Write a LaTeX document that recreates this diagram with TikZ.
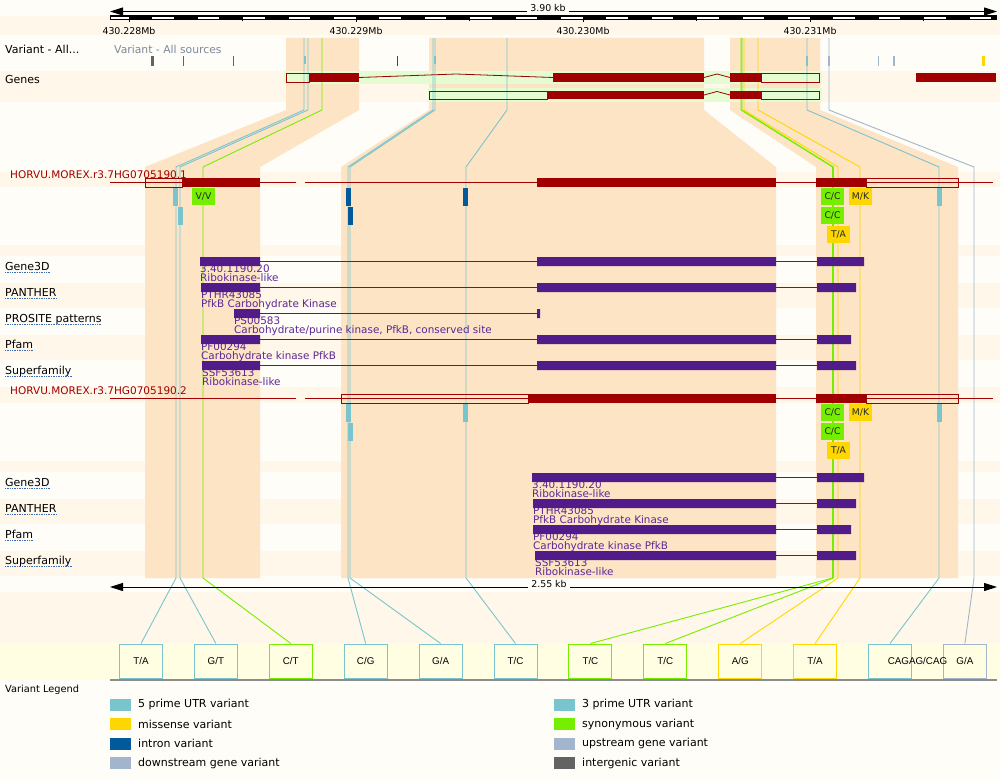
\documentclass[tikz,border=0pt]{standalone}
\usepackage{fontspec}
\setmainfont{DejaVu Sans}
\newfontfamily\boxfont{Liberation Sans}
\usetikzlibrary{arrows.meta}
\definecolor{bg}{HTML}{FFFDF7}
\definecolor{stripe}{HTML}{FFF7EA}
\definecolor{peach}{HTML}{FDE4C5}
\definecolor{genegreen}{HTML}{E5FCD3}
\definecolor{gred}{HTML}{A00000}
\definecolor{dom}{HTML}{521B8A}
\definecolor{domtxt}{HTML}{5A2898}
\definecolor{utr}{HTML}{7AC5CD}
\definecolor{mis}{HTML}{FFD700}
\definecolor{syn}{HTML}{76EE00}
\definecolor{intr}{HTML}{02599C}
\definecolor{ups}{HTML}{A2B5CD}
\definecolor{igc}{HTML}{636363}
\definecolor{lyel}{HTML}{FFFEE3}
\definecolor{srcgray}{HTML}{7B8A9C}
\definecolor{ulblue}{HTML}{3A6BB0}
\newcommand\ulab[3]{\node[tlab] (#1) at (5,#2) {#3};
  \draw[uline] ([yshift=-2.2pt]#1.base west) -- ([yshift=-2.2pt]#1.base east);}
\begin{document}
\begin{tikzpicture}[x=1pt,y=-1pt,
  tlab/.style={anchor=base west,inner sep=0,font=\fontsize{11}{13}\selectfont},
  trlab/.style={anchor=base west,inner sep=0,text=gred,font=\fontsize{10.5}{12}\selectfont},
  dtxt/.style={anchor=base west,inner sep=0,text=domtxt,font=\fontsize{10.4}{12}\selectfont},
  ticklab/.style={inner sep=0,font=\fontsize{9.4}{11}\selectfont},
  uline/.style={ulblue,densely dotted,line width=0.7pt},
  vb/.style={inner sep=0,minimum width=23pt,minimum height=17pt,font=\fontsize{9.2}{10}\selectfont,text=black!85},
  bb/.style={draw,fill=lyel,line width=1pt,minimum width=43pt,minimum height=34pt,inner sep=0,font=\boxfont\fontsize{9.8}{11}\selectfont},
  con/.style={line width=0.9pt},
  exon/.style={fill=gred},
  utrbox/.style={draw=gred,line width=0.8pt},
  dline/.style={dom,line width=0.8pt},
  intronline/.style={gred,line width=0.8pt},
  sw/.style={inner sep=0,minimum width=21pt,minimum height=12pt},
  leg/.style={anchor=west,inner sep=0,font=\fontsize{11}{12}\selectfont},
  scalearr/.style={line width=1pt,{Triangle[length=13pt,width=8pt]}-{Triangle[length=13pt,width=8pt]}},
]
\useasboundingbox (0,0) rectangle (1000,781);
\fill[bg] (0,0) rectangle (1000,781);
% stripes
\foreach \a/\b in {16/35,71/102,172/187,245/256,283/308,335/360,387/403,461/472,499/524,551/576,592/643}
  \fill[stripe] (0,\a) rectangle (1000,\b);
\fill[lyel] (0,643) rectangle (1000,680);
% peach exon columns
\fill[peach] (286,38) -- (359,38) -- (359,110) -- (260,167) -- (260,578) -- (145,578) -- (145,167) -- (286,110) -- cycle;
\fill[peach] (429,38) -- (704,38) -- (704,110) -- (776,167) -- (776,578) -- (341,578) -- (341,167) -- (429,110) -- cycle;
\fill[peach] (730,38) -- (820,38) -- (820,110) -- (958,167) -- (958,578) -- (816,578) -- (816,167) -- (730,110) -- cycle;
% gene bands
\fill[genegreen] (284,71) rectangle (822,84);
\fill[genegreen] (428,88) rectangle (822,102);

% bottom variant boxes
\node[bb,draw=utr] (b1) at (141,661) {T/A};
\node[bb,draw=utr] (b2) at (215.9,661) {G/T};
\node[bb,draw=syn] (b3) at (290.8,661) {C/T};
\node[bb,draw=utr] (b4) at (365.7,661) {C/G};
\node[bb,draw=utr] (b5) at (440.6,661) {G/A};
\node[bb,draw=utr] (b6) at (515.5,661) {T/C};
\node[bb,draw=syn] (b7) at (590.4,661) {T/C};
\node[bb,draw=syn] (b8) at (665.3,661) {T/C};
\node[bb,draw=mis] (b9) at (740.2,661) {A/G};
\node[bb,draw=mis] (b10) at (815.1,661) {T/A};
\node[bb,draw=utr] (b11) at (890,661) {};
\node[bb,draw=ups] (b12) at (964.9,661) {G/A};
\node[inner sep=0,font=\boxfont\fontsize{9.8}{11}\selectfont] (b11t) at (917.5,661) {CAGAG/CAG};
\draw[gray!90,line width=1.5pt] (110,680) -- (997,680);

% variant connectors
\coordinate (v1) at (304,38);
\coordinate (v2) at (308,38);
\coordinate (v3) at (322,38);
\coordinate (v4) at (433,38);
\coordinate (v5) at (435,38);
\coordinate (v6) at (507,38);
\coordinate (v7) at (741,38);
\coordinate (v8) at (741.8,38);
\coordinate (v9) at (744,38);
\coordinate (v10) at (758,38);
\coordinate (v11) at (807,38);
\coordinate (v12) at (829,38);
\draw[con,utr] (v1) -- (304,110) -- (176,167) -- (176,578) -- (b1.north);
\draw[con,utr] (v2) -- (308,110) -- (180,167) -- (180,578) -- (b2.north);
\draw[con,syn] (v3) -- (322,110) -- (203,167) -- (203,578) -- (b3.north);
\draw[con,utr] (v4) -- (433,110) -- (348,167) -- (348,578) -- (b4.north);
\draw[con,utr] (v5) -- (435,110) -- (350,167) -- (350,578) -- (b5.north);
\draw[con,utr] (v6) -- (507,110) -- (466,167) -- (466,578) -- (b6.north);
\draw[con,syn] (v7) -- (741,110) -- (832.5,167) -- (832.5,578) -- (b7.north);
\draw[con,syn] (v8) -- (741.8,110) -- (833.5,167) -- (833.5,578) -- (b8.north);
\draw[con,mis] (v9) -- (744,110) -- (838,167) -- (838,578) -- (b9.north);
\draw[con,mis] (v10) -- (758,110) -- (860,167) -- (860,578) -- (b10.north);
\draw[con,utr] (v11) -- (807,110) -- (939,167) -- (939,578) -- (b11.north);
\draw[con,ups] (v12) -- (829,110) -- (974,167) -- (974,578) -- (b12.north);

% variant track marks
\fill[igc] (151,56) rectangle (154,66);
\fill[igc] (182.5,56) rectangle (183.5,66);
\fill[igc] (232.5,56) rectangle (233.5,66);
\fill[utr] (304,56) rectangle (306,64);
\fill[intr] (396.5,56) rectangle (397.5,66);
\fill[utr] (434,56) rectangle (436,64);
\fill[utr] (806,56) rectangle (808,66);
\fill[ups] (828,56) rectangle (830,66);
\fill[ups] (877.5,56) rectangle (878.5,66);
\fill[ups] (893,56) rectangle (895,66);
\fill[mis] (982,56) rectangle (985,66);

% genes
\draw[utrbox] (286,73) rectangle (309,82);
\fill[exon] (309,73) rectangle (359,82);
\draw[intronline] (359,77.5) -- (456,74) -- (553,77.5);
\fill[exon] (553,73) rectangle (704,82);
\draw[intronline] (704,77.5) -- (717,74) -- (730,77.5);
\fill[exon] (730,73) rectangle (761,82);
\draw[utrbox] (761,73) rectangle (819,82);
\fill[exon] (916,73) rectangle (996,82);
\draw[utrbox] (429,91) rectangle (547,99);
\fill[exon] (547,91) rectangle (704,99);
\draw[intronline] (704,95) -- (717,91.5) -- (730,95);
\fill[exon] (730,91) rectangle (761,99);
\draw[utrbox] (761,91) rectangle (819,99);

% transcript 1
\draw[intronline] (110,182.5) -- (296,182.5) (305,182.5) -- (993,182.5);
\draw[utrbox] (145,178) rectangle (182,187);
\fill[exon] (182,178) rectangle (260,187);
\fill[exon] (537,178) rectangle (776,187);
\fill[exon] (816,178) rectangle (866,187);
\draw[utrbox] (866,178) rectangle (958,187);
% transcript 2
\draw[intronline] (110,398.5) -- (296,398.5) (305,398.5) -- (993,398.5);
\draw[utrbox] (341,394) rectangle (528,403);
\fill[exon] (528,394) rectangle (776,403);
\fill[exon] (816,394) rectangle (866,403);
\draw[utrbox] (866,394) rectangle (958,403);

% variant marks on transcript 1
\fill[utr] (173,188) rectangle (178,206);
\fill[utr] (178,207) rectangle (183,225);
\fill[intr] (346,188) rectangle (351,206);
\fill[intr] (348,207) rectangle (353,225);
\fill[intr] (463,188) rectangle (468,206);
\fill[utr] (937,188) rectangle (942,206);
\node[vb,fill=syn] (vv1) at (203.5,196.5) {V/V};
\node[vb,fill=syn] (cc1) at (832.5,196.5) {C/C};
\node[vb,fill=syn] (cc2) at (832.5,215.5) {C/C};
\node[vb,fill=mis] (ta1) at (838.5,234.5) {T/A};
\node[vb,fill=mis] (mk1) at (860.5,196.5) {M/K};
% variant marks on transcript 2
\fill[utr] (346,404) rectangle (351,422);
\fill[utr] (348,423) rectangle (353,441);
\fill[utr] (463,404) rectangle (468,422);
\fill[utr] (937,404) rectangle (942,422);
\node[vb,fill=syn] (cc3) at (832.5,412.5) {C/C};
\node[vb,fill=syn] (cc4) at (832.5,431.5) {C/C};
\node[vb,fill=mis] (ta2) at (838.5,450.5) {T/A};
\node[vb,fill=mis] (mk2) at (860.5,412.5) {M/K};

% domains, transcript 1
\node[dtxt] (d1a) at (200,272) {3.40.1190.20};
\node[dtxt] (d1b) at (200,281) {Ribokinase-like};
\draw[dline] (260,261.5) -- (537,261.5) (776,261.5) -- (817,261.5);
\fill[dom] (200,257) rectangle (260,266) (537,257) rectangle (776,266) (817,257) rectangle (864,266);
\node[dtxt] (d2a) at (201,298) {PTHR43085};
\node[dtxt] (d2b) at (201,307) {PfkB Carbohydrate Kinase};
\draw[dline] (260,287.5) -- (537,287.5) (776,287.5) -- (817,287.5);
\fill[dom] (201,283) rectangle (260,292) (537,283) rectangle (776,292) (817,283) rectangle (856,292);
\node[dtxt] (d3a) at (234,324) {PS00583};
\node[dtxt] (d3b) at (234,333) {Carbohydrate/purine kinase, PfkB, conserved site};
\draw[dline] (260,313.5) -- (537,313.5);
\fill[dom] (234,309) rectangle (260,318) (537,309) rectangle (540,318);
\node[dtxt] (d4a) at (201,350) {PF00294};
\node[dtxt] (d4b) at (201,359) {Carbohydrate kinase PfkB};
\draw[dline] (260,339.5) -- (537,339.5) (776,339.5) -- (817,339.5);
\fill[dom] (201,335) rectangle (260,344) (537,335) rectangle (776,344) (817,335) rectangle (851,344);
\node[dtxt] (d5a) at (202,376) {SSF53613};
\node[dtxt] (d5b) at (202,385) {Ribokinase-like};
\draw[dline] (260,365.5) -- (537,365.5) (776,365.5) -- (817,365.5);
\fill[dom] (202,361) rectangle (260,370) (537,361) rectangle (776,370) (817,361) rectangle (856,370);

% domains, transcript 2
\node[dtxt] (e1a) at (532,488) {3.40.1190.20};
\node[dtxt] (e1b) at (532,497) {Ribokinase-like};
\draw[dline] (776,477.5) -- (817,477.5);
\fill[dom] (532,473) rectangle (776,482) (817,473) rectangle (864,482);
\node[dtxt] (e2a) at (533,514) {PTHR43085};
\node[dtxt] (e2b) at (533,523) {PfkB Carbohydrate Kinase};
\draw[dline] (776,503.5) -- (817,503.5);
\fill[dom] (533,499) rectangle (776,508) (817,499) rectangle (856,508);
\node[dtxt] (e3a) at (533,540) {PF00294};
\node[dtxt] (e3b) at (533,549) {Carbohydrate kinase PfkB};
\draw[dline] (776,529.5) -- (817,529.5);
\fill[dom] (533,525) rectangle (776,534) (817,525) rectangle (851,534);
\node[dtxt] (e4a) at (535,566) {SSF53613};
\node[dtxt] (e4b) at (535,575) {Ribokinase-like};
\draw[dline] (776,555.5) -- (817,555.5);
\fill[dom] (535,551) rectangle (776,560) (817,551) rectangle (856,560);

% top scale
\coordinate (sl) at (110,11.5);
\coordinate (sr) at (997,11.5);
\draw[scalearr] (sl) -- (sr);
\node[ticklab,fill=bg,inner xsep=3pt,inner ysep=1pt] (len1) at (548,7.5) {3.90 kb};
\fill[black] (110,15.5) rectangle (997,19.8);
\fill[white] (111,17.2) rectangle (128.5,18.8);
\foreach \i in {0,...,18} {
  \pgfmathsetmacro\xa{151.7+45.4*\i}
  \pgfmathsetmacro\xb{151.7+45.4*\i+22.7}
  \fill[white] (\xa+0.7,17.2) rectangle (\xb-0.5,18.8);
}
\foreach \x in {129,356,583,810} \draw[line width=0.8pt] (\x,19.5) -- (\x,22);
\foreach \x in {242.5,469.5,696.5,923.5} \draw[line width=0.8pt] (\x,19.5) -- (\x,21.5);
\node[ticklab] (tk1) at (129,30.5) {430.228Mb};
\node[ticklab] (tk2) at (356,30.5) {430.229Mb};
\node[ticklab] (tk3) at (583,30.5) {430.230Mb};
\node[ticklab] (tk4) at (810,30.5) {430.231Mb};

% lower scale
\coordinate (ll) at (110,587);
\coordinate (lr) at (997,587);
\draw[scalearr] (ll) -- (lr);
\node[ticklab,fill=bg,inner xsep=3pt,inner ysep=1pt] (len2) at (549,584) {2.55 kb};

% track labels
\node[tlab] (lvar) at (5,54) {Variant - All...};
\node[anchor=base west,inner sep=0,text=srcgray,font=\fontsize{10.8}{12}\selectfont] (lsrc) at (114,54) {Variant - All sources};
\node[tlab] (lgenes) at (5,84) {Genes};
\node[trlab] (ltr1) at (10,178) {HORVU.MOREX.r3.7HG0705190.1};
\node[trlab] (ltr2) at (10,394) {HORVU.MOREX.r3.7HG0705190.2};
\ulab{la1}{270}{Gene3D}
\ulab{la2}{296}{PANTHER}
\ulab{la3}{322}{PROSITE patterns}
\ulab{la4}{348}{Pfam}
\ulab{la5}{374}{Superfamily}
\ulab{lb1}{486}{Gene3D}
\ulab{lb2}{512}{PANTHER}
\ulab{lb3}{538}{Pfam}
\ulab{lb4}{564}{Superfamily}

% legend
\node[anchor=base west,inner sep=0,font=\fontsize{9.8}{12}\selectfont] (vleg) at (5,692) {Variant Legend};
\node[sw,fill=utr] (s1) at (120.5,704.5) {};
\node[leg] (t1) at (138,704.5) {5 prime UTR variant};
\node[sw,fill=mis] (s2) at (120.5,724) {};
\node[leg] (t2) at (138,724) {missense variant};
\node[sw,fill=intr] (s3) at (120.5,743.5) {};
\node[leg] (t3) at (138,743.5) {intron variant};
\node[sw,fill=ups] (s4) at (120.5,763) {};
\node[leg] (t4) at (138,763) {downstream gene variant};
\node[sw,fill=utr] (s5) at (564.5,704.5) {};
\node[leg] (t5) at (582,704.5) {3 prime UTR variant};
\node[sw,fill=syn] (s6) at (564.5,724) {};
\node[leg] (t6) at (582,724) {synonymous variant};
\node[sw,fill=ups] (s7) at (564.5,743.5) {};
\node[leg] (t7) at (582,743.5) {upstream gene variant};
\node[sw,fill=igc] (s8) at (564.5,763) {};
\node[leg] (t8) at (582,763) {intergenic variant};
\end{tikzpicture}
\end{document}
